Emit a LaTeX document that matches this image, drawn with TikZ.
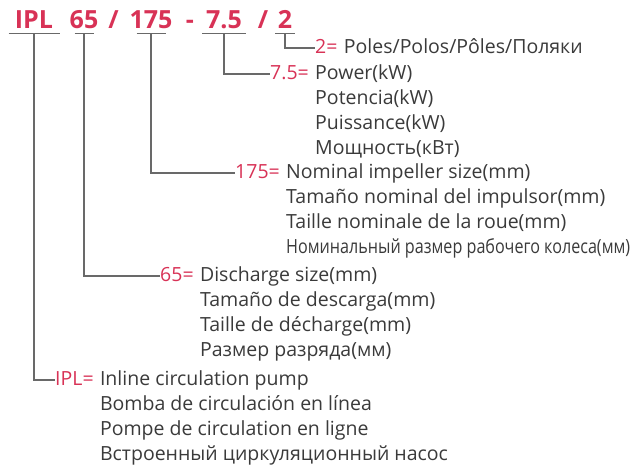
\documentclass[tikz,border=0pt]{standalone}
\usepackage{fontspec}
\setmainfont{Open Sans}
\usetikzlibrary{positioning}
\definecolor{codered}{RGB}{216,50,86}
\definecolor{textgrey}{RGB}{58,58,58}
\definecolor{linegrey}{RGB}{105,105,105}

\begin{document}
\begin{tikzpicture}[x=1pt,y=-1pt,
  code/.style={font=\bfseries\fontsize{25}{30}\selectfont,text=codered,inner sep=0,text height=18pt,text depth=5pt,anchor=base},
  key/.style={font=\fontsize{19.5}{25}\selectfont,text=codered,inner sep=0,anchor=west},
  desc/.style={font=\fontsize{19.5}{25}\selectfont,text=textgrey,inner sep=0,anchor=north west,align=left},
  lead/.style={draw=linegrey,line width=1.2pt}]
\useasboundingbox (0,0) rectangle (637,467);
% model code
\node[code] (ipl) at (34,28) {IPL};
\node[code] (n65) at (84,28) {65};
\node[code] (sl1) at (113.5,28) {/};
\node[code] (n175) at (151,28) {175};
\node[code] (dash) at (190,28) {-};
\node[code] (n75) at (224,28) {7.5};
\node[code] (sl2) at (263,28) {/};
\node[code] (n2) at (285,28) {2};
% keys and meanings
\node[key] (kn2) at (315,48) {\strut 2=};
\node[desc,right=6pt of kn2.north east,anchor=north west] (dn2) {\strut Poles/Polos/Pôles/Поляки};
\node[key] (kn75) at (270,74) {\strut 7.5=};
\node[desc,right=6pt of kn75.north east,anchor=north west] (dn75) {\strut Power(kW)\\Potencia(kW)\\Puissance(kW)\\Мощность(кВт)};
\node[key] (kn175) at (235,173) {\strut 175=};
\node[desc,right=6pt of kn175.north east,anchor=north west] (dn175) {\strut Nominal impeller size(mm)\\Tamaño nominal del impulsor(mm)\\Taille nominale de la roue(mm)\\\resizebox{344pt}{\height}{Номинальный размер рабочего колеса(мм)}};
\node[key] (kn65) at (160,276) {\strut 65=};
\node[desc,right=6pt of kn65.north east,anchor=north west] (dn65) {\strut Discharge size(mm)\\Tamaño de descarga(mm)\\Taille de décharge(mm)\\Размер разряда(мм)};
\node[key] (kipl) at (55,380) {\strut IPL=};
\node[desc,right=6pt of kipl.north east,anchor=north west] (dipl) {\strut Inline circulation pump\\Bomba de circulación en línea\\Pompe de circulation en ligne\\Встроенный циркуляционный насос};
% underlines and leaders
\foreach \c/\w in {ipl/25.5,n65/9.5,n175/14.5,n75/22,n2/10}{
  \draw[lead] ([xshift=-\w pt]\c.south) -- ([xshift=\w pt]\c.south);
  \draw[lead] (\c.south) |- (k\c.west);
}
\end{tikzpicture}
\end{document}
